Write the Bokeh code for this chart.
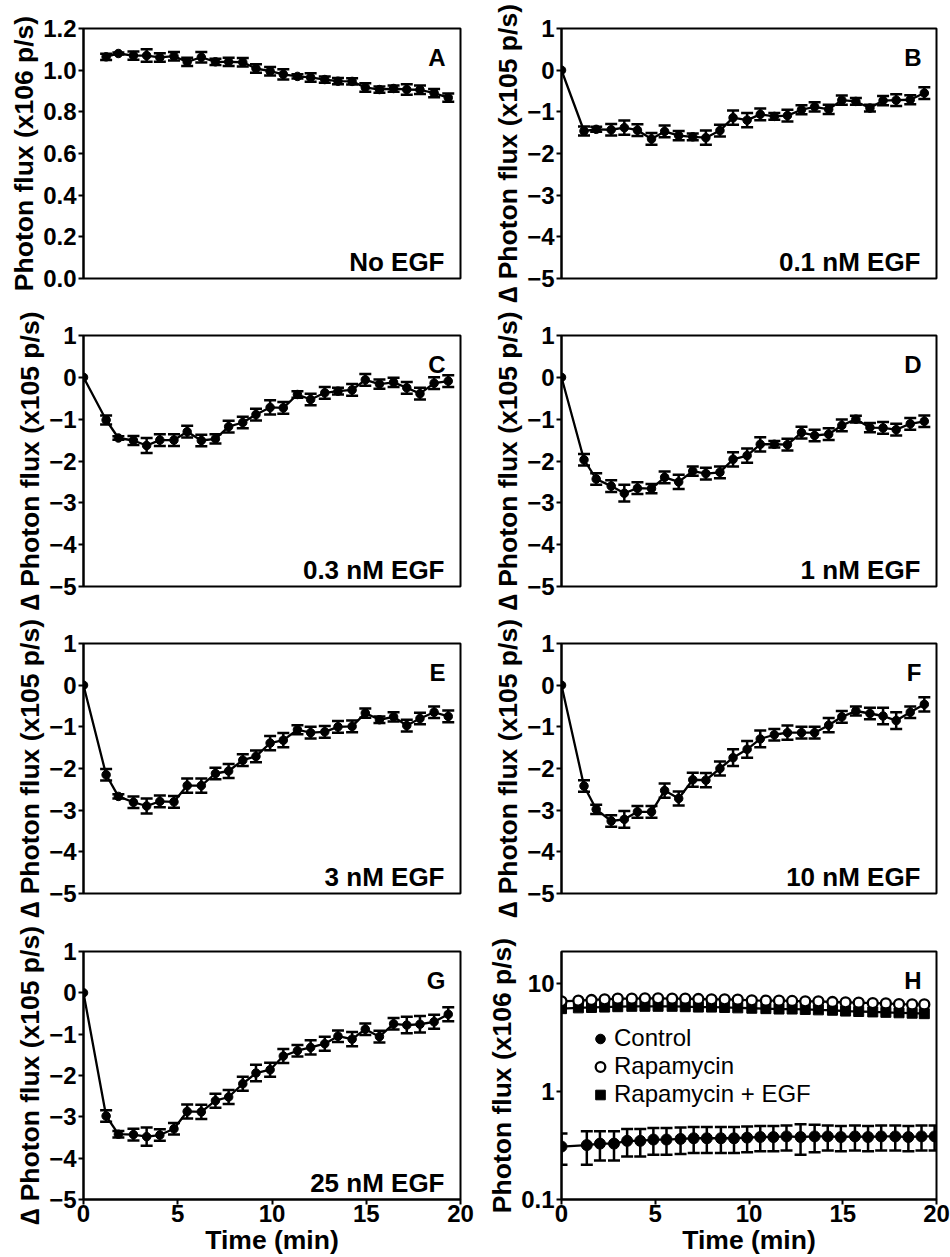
import math

from bokeh.plotting import figure
from bokeh.layouts import column, row
from bokeh.models import (Range1d, FixedTicker, NumeralTickFormatter, Whisker, TeeHead,
                          ColumnDataSource, Label, Legend, LegendItem)
from bokeh.embed import file_html
from bokeh.resources import INLINE

FONT = "Liberation Sans"

# ---- sampling times (min) ----
times = [0, 1.2, 1.85, 2.65, 3.35, 4.05, 4.8, 5.5, 6.25, 7.0, 7.7, 8.45, 9.15, 9.9,
         10.6, 11.35, 12.05, 12.8, 13.5, 14.25, 14.95, 15.7, 16.45, 17.15, 17.85, 18.6, 19.35]
times_no_zero = times[1:]

# ---- A: absolute photon flux, no EGF (x10^6 p/s) ----
a_mean = [1.064, 1.08, 1.07, 1.07, 1.061, 1.067, 1.04, 1.062, 1.04, 1.04, 1.038, 1.008, 0.995,
          0.98, 0.97, 0.965, 0.955, 0.947, 0.946, 0.917, 0.907, 0.912, 0.907, 0.906, 0.89, 0.868]
a_err = [0.015, 0.005, 0.02, 0.03, 0.02, 0.02, 0.02, 0.025, 0.015, 0.02, 0.02, 0.02, 0.02,
         0.025, 0.01, 0.02, 0.015, 0.015, 0.015, 0.02, 0.015, 0.015, 0.025, 0.02, 0.02, 0.02]

# ---- B-G: change in photon flux (x10^5 p/s) ----
b_mean = [0, -1.46, -1.42, -1.43, -1.38, -1.44, -1.65, -1.47, -1.57, -1.6, -1.62, -1.45, -1.14,
          -1.2, -1.06, -1.11, -1.09, -0.95, -0.88, -0.94, -0.72, -0.75, -0.91, -0.73, -0.72,
          -0.71, -0.55]
b_err = [0, 0.11, 0.06, 0.14, 0.17, 0.14, 0.14, 0.14, 0.11, 0.08, 0.17, 0.14, 0.17, 0.17, 0.14,
         0.08, 0.14, 0.11, 0.11, 0.11, 0.11, 0.08, 0.08, 0.11, 0.14, 0.11, 0.14]

c_mean = [0, -1.02, -1.45, -1.51, -1.63, -1.5, -1.5, -1.3, -1.51, -1.47, -1.18, -1.08, -0.89,
          -0.72, -0.73, -0.41, -0.53, -0.37, -0.33, -0.3, -0.06, -0.16, -0.12, -0.25, -0.39,
          -0.14, -0.09]
c_err = [0, 0.11, 0.04, 0.11, 0.18, 0.14, 0.14, 0.14, 0.14, 0.11, 0.14, 0.14, 0.14, 0.17, 0.14,
         0.08, 0.14, 0.14, 0.08, 0.14, 0.14, 0.11, 0.11, 0.14, 0.14, 0.14, 0.14]

d_mean = [0, -1.97, -2.43, -2.6, -2.77, -2.65, -2.66, -2.39, -2.5, -2.24, -2.3, -2.27, -1.96,
          -1.87, -1.6, -1.6, -1.61, -1.32, -1.39, -1.36, -1.15, -1.0, -1.2, -1.21, -1.25, -1.11,
          -1.05]
d_err = [0, 0.14, 0.14, 0.14, 0.2, 0.14, 0.11, 0.14, 0.17, 0.11, 0.14, 0.14, 0.17, 0.17, 0.17,
         0.08, 0.14, 0.14, 0.14, 0.14, 0.14, 0.08, 0.11, 0.14, 0.14, 0.14, 0.14]

e_mean = [0, -2.15, -2.67, -2.81, -2.9, -2.79, -2.8, -2.41, -2.41, -2.12, -2.06, -1.8, -1.71,
          -1.39, -1.32, -1.07, -1.14, -1.12, -1.0, -0.99, -0.67, -0.83, -0.76, -0.97, -0.8,
          -0.65, -0.75]
e_err = [0, 0.14, 0.05, 0.14, 0.18, 0.14, 0.14, 0.17, 0.17, 0.14, 0.17, 0.14, 0.14, 0.17, 0.17,
         0.11, 0.14, 0.14, 0.14, 0.14, 0.11, 0.08, 0.11, 0.14, 0.14, 0.14, 0.14]

f_mean = [0, -2.42, -2.98, -3.26, -3.22, -3.04, -3.04, -2.53, -2.72, -2.27, -2.28, -2.0, -1.74,
          -1.54, -1.29, -1.19, -1.14, -1.14, -1.14, -0.96, -0.76, -0.62, -0.68, -0.74, -0.85,
          -0.65, -0.46]
f_err = [0, 0.14, 0.11, 0.14, 0.2, 0.14, 0.14, 0.17, 0.17, 0.17, 0.17, 0.17, 0.2, 0.2, 0.2,
         0.14, 0.17, 0.14, 0.14, 0.17, 0.14, 0.11, 0.14, 0.2, 0.2, 0.14, 0.17]

g_mean = [0, -2.98, -3.42, -3.43, -3.48, -3.44, -3.29, -2.87, -2.88, -2.61, -2.52, -2.2, -1.94,
          -1.86, -1.53, -1.4, -1.32, -1.23, -1.05, -1.12, -0.88, -1.06, -0.75, -0.78, -0.76,
          -0.7, -0.52]
g_err = [0, 0.14, 0.08, 0.14, 0.22, 0.14, 0.14, 0.17, 0.17, 0.17, 0.17, 0.17, 0.2, 0.17, 0.17,
         0.14, 0.17, 0.17, 0.14, 0.17, 0.14, 0.14, 0.14, 0.2, 0.2, 0.17, 0.17]

# ---- H: absolute photon flux on a log scale (x10^6 p/s) ----
ctrl_time = [0, 1.35, 2.05, 2.8, 3.5, 4.2, 4.9, 5.6, 6.35, 7.05, 7.75, 8.5, 9.2, 9.9, 10.6,
             11.3, 12.0, 12.75, 13.5, 14.2, 14.9, 15.65, 16.35, 17.05, 17.8, 18.5, 19.2, 19.9]
ctrl_mean = [0.31, 0.32, 0.33, 0.33, 0.35, 0.35, 0.36, 0.36, 0.365, 0.37, 0.37, 0.37, 0.37,
             0.375, 0.38, 0.38, 0.385, 0.38, 0.385, 0.385, 0.38, 0.385, 0.38, 0.385, 0.385,
             0.38, 0.385, 0.385]
ctrl_err = [0.1, 0.11, 0.1, 0.1, 0.1, 0.1, 0.1, 0.1, 0.1, 0.1, 0.1, 0.1, 0.1, 0.1, 0.1, 0.1,
            0.1, 0.12, 0.11, 0.1, 0.1, 0.1, 0.1, 0.1, 0.1, 0.1, 0.1, 0.1]

rapa_time = [0, 0.9, 1.6, 2.3, 3.0, 3.75, 4.45, 5.15, 5.9, 6.6, 7.3, 8.0, 8.7, 9.4, 10.15,
             10.9, 11.6, 12.3, 13.0, 13.7, 14.45, 15.15, 15.85, 16.6, 17.3, 18.0, 18.7, 19.35]
rapa_mean = [6.9, 7.0, 7.1, 7.2, 7.3, 7.3, 7.35, 7.35, 7.3, 7.3, 7.25, 7.2, 7.2, 7.15, 7.05,
             7.0, 7.0, 6.95, 6.9, 6.9, 6.8, 6.75, 6.7, 6.65, 6.6, 6.5, 6.45, 6.45]
rapa_egf_mean = [5.9, 6.0, 6.05, 6.1, 6.15, 6.2, 6.2, 6.2, 6.2, 6.15, 6.1, 6.1, 6.05, 6.0,
                 5.95, 5.9, 5.85, 5.85, 5.8, 5.75, 5.7, 5.6, 5.55, 5.5, 5.45, 5.4, 5.35, 5.3]

legend_labels = ["Control", "Rapamycin", "Rapamycin + EGF"]
delta_ticks = [-5, -4, -3, -2, -1, 0, 1]
abs_ticks = [0.0, 0.2, 0.4, 0.6, 0.8, 1.0, 1.2]
log_ticks = [0.1, 1, 10]
time_ticks = [0, 5, 10, 15, 20]

DELTA_LABEL = "\u2206 Photon flux (x105 p/s)"
ABS_LABEL = "Photon flux (x106 p/s)"

# column borders: (left, frame width, right); row borders: (top, frame height, bottom)
COLS = [(83, 377, 20), (81, 375, 14)]
ROWS = [(28, 250, 30), (27, 251, 30), (27, 250, 31), (27, 248, 58)]

TICK_FONT_SIZE = "24px"
AXIS_LABEL_SIZE = "26.5px"
LETTER_SIZE = "24px"
NOTE_SIZE = "26px"


def to_data(xr, yr, fx, fy, log=False):
    x = xr[0] + fx * (xr[1] - xr[0])
    if log:
        l0, l1 = math.log10(yr[0]), math.log10(yr[1])
        y = 10 ** (l0 + fy * (l1 - l0))
    else:
        y = yr[0] + fy * (yr[1] - yr[0])
    return x, y


def make_figure(col, rw, yr, ylabel, yticks, log=False):
    bl, fw, br = COLS[col]
    bt, fh, bb = ROWS[rw]
    bottom_row = rw == len(ROWS) - 1
    p = figure(frame_width=fw, frame_height=fh,
               min_border_left=bl, min_border_right=br,
               min_border_top=bt, min_border_bottom=bb,
               x_range=Range1d(0, 20), y_range=Range1d(*yr),
               y_axis_type="log" if log else "linear",
               x_axis_location="below" if bottom_row else None,
               toolbar_location=None, output_backend="svg")
    p.outline_line_color = "black"
    p.outline_line_width = 2
    p.outline_line_alpha = 1
    p.xgrid.grid_line_color = None
    p.ygrid.grid_line_color = None
    p.background_fill_color = "white"
    p.border_fill_color = "white"

    axes = [p.yaxis[0]]
    if bottom_row:
        axes.append(p.xaxis[0])
        p.xaxis.ticker = FixedTicker(ticks=time_ticks)
        p.xaxis.axis_label = "Time (min)"
        p.xaxis.major_label_standoff = 0
        p.xaxis.axis_label_standoff = 0
    for ax in axes:
        ax.axis_line_width = 2
        ax.axis_line_color = "black"
        ax.major_tick_line_width = 2
        ax.major_tick_line_color = "black"
        ax.major_tick_out = 5
        ax.major_tick_in = 0
        ax.minor_tick_line_color = None
        ax.major_label_text_font = FONT
        ax.major_label_text_font_style = "bold"
        ax.major_label_text_font_size = TICK_FONT_SIZE
        ax.major_label_text_color = "black"
        ax.axis_label_text_font = FONT
        ax.axis_label_text_font_style = "bold"
        ax.axis_label_text_font_size = AXIS_LABEL_SIZE
        ax.axis_label_text_color = "black"

    p.yaxis.ticker = FixedTicker(ticks=yticks)
    p.yaxis.axis_label = ylabel
    p.yaxis.major_label_standoff = 2
    p.yaxis.axis_label_standoff = 1
    return p


def add_texts(p, yr, letter, note, log=False):
    fw = p.frame_width
    fh = p.frame_height
    lx, ly = to_data((0, 20), yr, 1 - 15 / fw, 1 - 29 / fh, log)
    p.add_layout(Label(x=lx, y=ly, text=letter, text_align="right",
                       text_baseline="alphabetic", text_font=FONT,
                       text_font_style="bold", text_font_size=LETTER_SIZE,
                       text_color="black"))
    if note:
        nx, ny = to_data((0, 20), yr, 1 - 16 / fw, 17 / fh, log)
        p.add_layout(Label(x=nx, y=ny, text=note, text_align="right",
                           text_baseline="alphabetic", text_font=FONT,
                           text_font_style="bold", text_font_size=NOTE_SIZE,
                           text_color="black"))


def add_errorbars(p, t, mean, err, cap=12, width=2.5):
    xs, lo, hi = [], [], []
    for ti, m, e in zip(t, mean, err):
        if e > 0:
            xs.append(ti)
            lo.append(m - e)
            hi.append(m + e)
    src = ColumnDataSource(dict(x=xs, lo=lo, hi=hi))
    p.add_layout(Whisker(source=src, base="x", lower="lo", upper="hi",
                         line_color="black", line_width=width,
                         upper_head=TeeHead(size=cap, line_color="black", line_width=width),
                         lower_head=TeeHead(size=cap, line_color="black", line_width=width)))


def time_course(col, rw, t, mean, err, yr, ylabel, yticks, letter, note):
    p = make_figure(col, rw, yr, ylabel, yticks)
    src = ColumnDataSource(dict(t=t, y=mean))
    p.line("t", "y", source=src, line_color="black", line_width=2.3)
    add_errorbars(p, t, mean, err)
    p.scatter("t", "y", source=src, size=8.5, color="black")
    add_texts(p, yr, letter, note)
    return p


pA = time_course(0, 0, times_no_zero, a_mean, a_err, (0, 1.2), ABS_LABEL, abs_ticks, "A", "No EGF")
pA.yaxis.formatter = NumeralTickFormatter(format="0.0")
pB = time_course(1, 0, times, b_mean, b_err, (-5, 1), DELTA_LABEL, delta_ticks, "B", "0.1 nM EGF")
pC = time_course(0, 1, times, c_mean, c_err, (-5, 1), DELTA_LABEL, delta_ticks, "C", "0.3 nM EGF")
pD = time_course(1, 1, times, d_mean, d_err, (-5, 1), DELTA_LABEL, delta_ticks, "D", "1 nM EGF")
pE = time_course(0, 2, times, e_mean, e_err, (-5, 1), DELTA_LABEL, delta_ticks, "E", "3 nM EGF")
pF = time_course(1, 2, times, f_mean, f_err, (-5, 1), DELTA_LABEL, delta_ticks, "F", "10 nM EGF")
pG = time_course(0, 3, times, g_mean, g_err, (-5, 1), DELTA_LABEL, delta_ticks, "G", "25 nM EGF")

# ---- H: log-scale comparison ----
H_RANGE = (0.1, 20)
pH = make_figure(1, 3, H_RANGE, ABS_LABEL, log_ticks, log=True)
pH.yaxis.formatter = NumeralTickFormatter(format="0.[0]")

ctrl_src = ColumnDataSource(dict(t=ctrl_time, y=ctrl_mean))
pH.line("t", "y", source=ctrl_src, line_color="black", line_width=2.3)
add_errorbars(pH, ctrl_time, ctrl_mean, ctrl_err, cap=12)
r_ctrl = pH.scatter("t", "y", source=ctrl_src, size=11, color="black")

sq_src = ColumnDataSource(dict(t=rapa_time, y=rapa_egf_mean))
pH.line("t", "y", source=sq_src, line_color="black", line_width=2.3)
r_sq = pH.scatter("t", "y", source=sq_src, marker="square", size=10, color="black")

rapa_src = ColumnDataSource(dict(t=rapa_time, y=rapa_mean))
pH.line("t", "y", source=rapa_src, line_color="black", line_width=2.3)
r_rapa = pH.scatter("t", "y", source=rapa_src, size=10, fill_color="white",
                    line_color="black", line_width=2.3)

legend = Legend(items=[LegendItem(label=legend_labels[0], renderers=[r_ctrl]),
                       LegendItem(label=legend_labels[1], renderers=[r_rapa]),
                       LegendItem(label=legend_labels[2], renderers=[r_sq])],
                location=(27, 91), background_fill_alpha=0, border_line_color=None,
                padding=0, margin=0, spacing=0, label_height=27, glyph_height=27,
                glyph_width=24, label_standoff=2, label_text_font=FONT,
                label_text_font_size="24px", label_text_color="black")
pH.add_layout(legend)
add_texts(pH, H_RANGE, "H", None, log=True)

layout = column(row(pA, pB), row(pC, pD), row(pE, pF), row(pG, pH))

with open("out.html", "w") as fh_out:
    fh_out.write(file_html(layout, INLINE))
